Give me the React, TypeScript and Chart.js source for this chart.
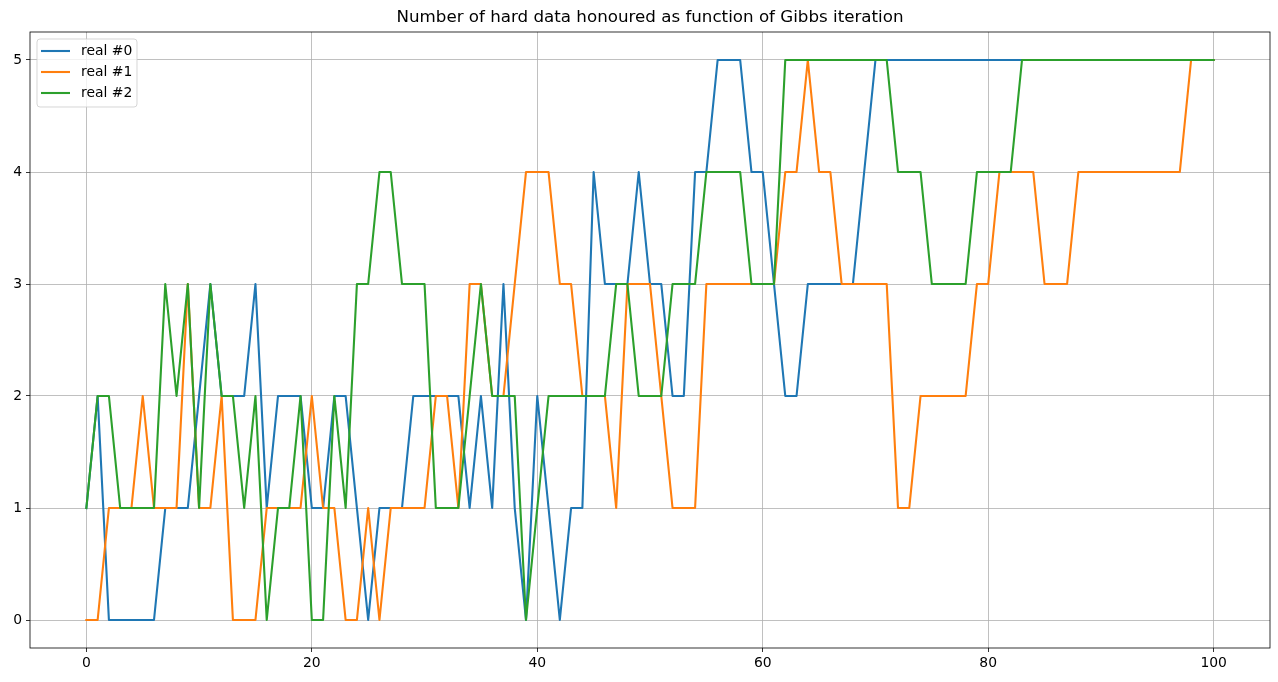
import { useEffect, useRef } from "react";
import { Chart, registerables } from "chart.js";
Chart.register(...registerables);

const titleText = "Number of hard data honoured as function of Gibbs iteration";
const seriesLabels = ["real #0", "real #1", "real #2"];
const seriesColors = ["#1f77b4", "#ff7f0e", "#2ca02c"];
const xTicks = [0, 20, 40, 60, 80, 100];
const yTicks = [0, 1, 2, 3, 4, 5];

const real0 = [
  1, 2, 0, 0, 0, 0, 0, 1, 1, 1,
  2, 3, 2, 2, 2, 3, 1, 2, 2, 2,
  1, 1, 2, 2, 1, 0, 1, 1, 1, 2,
  2, 2, 2, 2, 1, 2, 1, 3, 1, 0,
  2, 1, 0, 1, 1, 4, 3, 3, 3, 4,
  3, 3, 2, 2, 4, 4, 5, 5, 5, 4,
  4, 3, 2, 2, 3, 3, 3, 3, 3, 4,
  5, 5, 5, 5, 5, 5, 5, 5, 5, 5,
  5, 5, 5, 5, 5, 5, 5, 5, 5, 5,
  5, 5, 5, 5, 5, 5, 5, 5, 5, 5, 5,
];
const real1 = [
  0, 0, 1, 1, 1, 2, 1, 1, 1, 3,
  1, 1, 2, 0, 0, 0, 1, 1, 1, 1,
  2, 1, 1, 0, 0, 1, 0, 1, 1, 1,
  1, 2, 2, 1, 3, 3, 2, 2, 3, 4,
  4, 4, 3, 3, 2, 2, 2, 1, 3, 3,
  3, 2, 1, 1, 1, 3, 3, 3, 3, 3,
  3, 3, 4, 4, 5, 4, 4, 3, 3, 3,
  3, 3, 1, 1, 2, 2, 2, 2, 2, 3,
  3, 4, 4, 4, 4, 3, 3, 3, 4, 4,
  4, 4, 4, 4, 4, 4, 4, 4, 5, 5, 5,
];
const real2 = [
  1, 2, 2, 1, 1, 1, 1, 3, 2, 3,
  1, 3, 2, 2, 1, 2, 0, 1, 1, 2,
  0, 0, 2, 1, 3, 3, 4, 4, 3, 3,
  3, 1, 1, 1, 2, 3, 2, 2, 2, 0,
  1, 2, 2, 2, 2, 2, 2, 3, 3, 2,
  2, 2, 3, 3, 3, 4, 4, 4, 4, 3,
  3, 3, 5, 5, 5, 5, 5, 5, 5, 5,
  5, 5, 4, 4, 4, 3, 3, 3, 3, 4,
  4, 4, 4, 5, 5, 5, 5, 5, 5, 5,
  5, 5, 5, 5, 5, 5, 5, 5, 5, 5, 5,
];
const seriesValues = [real0, real1, real2];

const FONT = "'DejaVu Sans', sans-serif";

const decorPlugin = {
  id: "decor",
  afterDraw(chart: any) {
    const { ctx, chartArea } = chart;
    const { left, top, right, bottom } = chartArea;
    ctx.save();
    // axes box
    ctx.strokeStyle = "#000";
    ctx.lineWidth = 0.8;
    ctx.strokeRect(left, top, right - left, bottom - top);
    // title
    ctx.fillStyle = "#000";
    ctx.font = `16.7px ${FONT}`;
    ctx.textAlign = "center";
    ctx.textBaseline = "middle";
    ctx.fillText(titleText, (left + right) / 2, top - 14);
    // legend
    const bx = left + 7, by = top + 7, bw = 100, bh = 68;
    const r = 3;
    ctx.beginPath();
    ctx.moveTo(bx + r, by);
    ctx.lineTo(bx + bw - r, by);
    ctx.quadraticCurveTo(bx + bw, by, bx + bw, by + r);
    ctx.lineTo(bx + bw, by + bh - r);
    ctx.quadraticCurveTo(bx + bw, by + bh, bx + bw - r, by + bh);
    ctx.lineTo(bx + r, by + bh);
    ctx.quadraticCurveTo(bx, by + bh, bx, by + bh - r);
    ctx.lineTo(bx, by + r);
    ctx.quadraticCurveTo(bx, by, bx + r, by);
    ctx.closePath();
    ctx.fillStyle = "rgba(255,255,255,0.8)";
    ctx.fill();
    ctx.strokeStyle = "rgba(204,204,204,0.8)";
    ctx.lineWidth = 1;
    ctx.stroke();
    ctx.font = `13.9px ${FONT}`;
    ctx.textAlign = "left";
    ctx.textBaseline = "middle";
    seriesLabels.forEach((lab, i) => {
      const y = by + 12 + i * 21;
      ctx.strokeStyle = seriesColors[i];
      ctx.lineWidth = 2.1;
      ctx.beginPath();
      ctx.moveTo(bx + 4, y);
      ctx.lineTo(bx + 33, y);
      ctx.stroke();
      ctx.fillStyle = "#000";
      ctx.fillText(lab, bx + 44, y);
    });
    ctx.restore();
  },
};

export default function App() {
  const ref = useRef<HTMLCanvasElement | null>(null);
  useEffect(() => {
    if (!ref.current) return;
    const datasets = seriesValues.map((vals, k) => ({
      label: seriesLabels[k],
      data: vals.map((v, i) => ({ x: i, y: v })),
      borderColor: seriesColors[k],
      backgroundColor: seriesColors[k],
      borderWidth: 2.1,
      borderJoinStyle: "round" as const,
      borderCapStyle: "square" as const,
      pointRadius: 0,
      tension: 0,
      fill: false,
      order: 2 - k,
    }));
    const chart = new Chart(ref.current, {
      type: "line",
      data: { datasets },
      options: {
        responsive: false,
        animation: false,
        layout: { padding: { top: 32, right: 8, left: 0, bottom: 0 } },
        plugins: { legend: { display: false }, tooltip: { enabled: false }, title: { display: false } },
        scales: {
          x: {
            type: "linear",
            min: -5,
            max: 105,
            afterBuildTicks: (s: any) => { s.ticks = xTicks.map((v) => ({ value: v })); },
            afterFit: (s: any) => { s.height = 34; },
            grid: { color: "#b0b0b0", lineWidth: 0.8, tickColor: "#000", tickLength: 4, drawTicks: true },
            border: { display: false },
            ticks: { color: "#000", font: { family: FONT, size: 13.9 }, padding: 3, maxRotation: 0 },
          },
          y: {
            type: "linear",
            min: -0.25,
            max: 5.25,
            afterBuildTicks: (s: any) => { s.ticks = yTicks.map((v) => ({ value: v })); },
            afterFit: (s: any) => { s.width = 30; },
            grid: { color: "#b0b0b0", lineWidth: 0.8, tickColor: "#000", tickLength: 4, drawTicks: true },
            border: { display: false },
            ticks: { color: "#000", font: { family: FONT, size: 13.9 }, padding: 4 },
          },
        },
      },
      plugins: [decorPlugin],
    });
    return () => chart.destroy();
  }, []);
  return (
    <div style={{ position: "absolute", left: 0, top: 0, width: 1278, height: 682, background: "#fff" }}>
      <canvas ref={ref} width={1278} height={682} style={{ display: "block" }} />
    </div>
  );
}
